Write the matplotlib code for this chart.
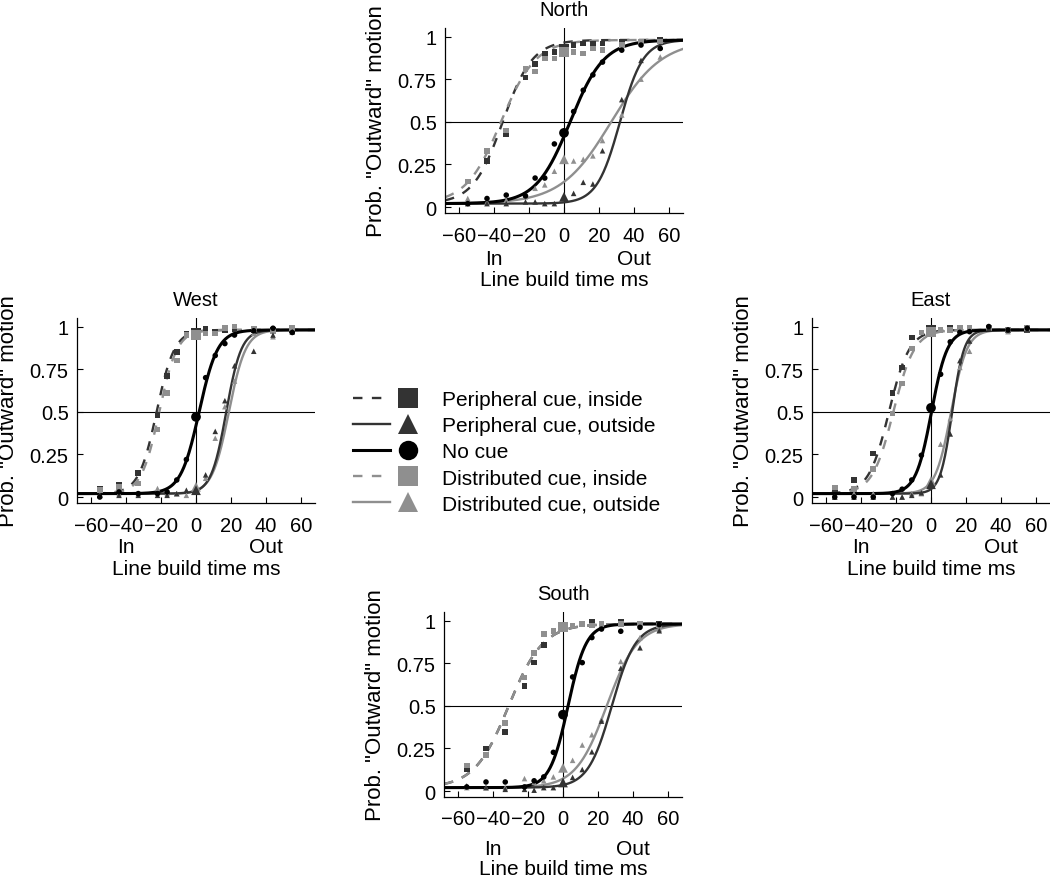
import numpy as np
import matplotlib
matplotlib.use("Agg")
import matplotlib.pyplot as plt
from matplotlib.lines import Line2D
from matplotlib.legend_handler import HandlerTuple

plt.rcParams['font.family'] = ['Liberation Sans', 'DejaVu Sans']
plt.rcParams['font.size'] = 15

# ---- data -------------------------------------------------------------
build_times = [-55, -44, -33, -22, -16.5, -11, -5.5, 0, 5.5, 11, 16.5, 22, 33, 44, 55]
conditions = ["Peripheral cue, inside", "Peripheral cue, outside", "No cue",
              "Distributed cue, inside", "Distributed cue, outside"]

# order of rows: per_in, per_out, no cue, dist_in, dist_out
north_prob = [
    [0.15, 0.27, 0.425, 0.76, 0.84, 0.90, 0.91, 0.93, 0.95, 0.96, 0.96, 0.96, 0.97, 0.97, 0.98],
    [0.02, 0.02, 0.02, 0.03, 0.03, 0.02, 0.02, 0.06, 0.08, 0.145, 0.135, 0.33, 0.63, 0.86, 0.94],
    [0.02, 0.05, 0.07, 0.065, 0.17, 0.17, 0.37, 0.435, 0.56, 0.685, 0.775, 0.85, 0.92, 0.95, 0.93],
    [0.15, 0.33, 0.45, 0.81, 0.795, 0.87, 0.87, 0.91, 0.91, 0.90, 0.93, 0.92, 0.95, 0.97, 0.97],
    [0.05, 0.03, 0.04, 0.06, 0.11, 0.13, 0.21, 0.28, 0.27, 0.28, 0.30, 0.39, 0.54, 0.75, 0.88],
]
west_prob = [
    [0.05, 0.07, 0.14, 0.48, 0.71, 0.85, 0.955, 0.96, 0.985, 0.97, 0.98, 0.985, 0.98, 0.98, 0.98],
    [0.01, 0.01, 0.01, 0.01, 0.01, 0.02, 0.04, 0.04, 0.13, 0.385, 0.565, 0.77, 0.855, 0.95, 0.97],
    [0.00, 0.03, 0.02, 0.02, 0.03, 0.10, 0.22, 0.47, 0.70, 0.83, 0.90, 0.95, 0.975, 0.99, 0.965],
    [0.04, 0.06, 0.08, 0.395, 0.61, 0.80, 0.95, 0.95, 0.96, 0.96, 0.99, 1.00, 0.985, 0.97, 0.99],
    [0.01, 0.02, 0.02, 0.05, 0.02, 0.02, 0.01, 0.06, 0.11, 0.345, 0.53, 0.68, 0.96, 0.94, 0.97],
]
east_prob = [
    [0.046, 0.10, 0.255, 0.61, 0.76, 0.935, 0.966, 0.98, 0.98, 0.99, 0.99, 0.99, 0.99, 0.98, 0.98],
    [0.00, 0.00, 0.00, 0.00, 0.00, 0.01, 0.025, 0.075, 0.13, 0.37, 0.80, 0.915, 0.99, 0.98, 0.98],
    [0.00, 0.00, 0.00, 0.02, 0.046, 0.10, 0.245, 0.523, 0.72, 0.91, 0.966, 0.97, 1.00, 0.98, 0.99],
    [0.055, 0.046, 0.165, 0.49, 0.665, 0.87, 0.966, 0.97, 0.98, 0.98, 0.99, 0.99, 0.99, 0.98, 0.99],
    [0.00, 0.02, 0.02, 0.00, 0.00, 0.02, 0.02, 0.095, 0.31, 0.46, 0.76, 0.855, 0.99, 0.97, 0.98],
]
south_prob = [
    [0.13, 0.25, 0.345, 0.615, 0.753, 0.858, 0.94, 0.96, 0.97, 0.98, 0.99, 0.98, 0.99, 0.98, 0.98],
    [0.03, 0.02, 0.01, 0.01, 0.005, 0.02, 0.02, 0.05, 0.08, 0.126, 0.23, 0.41, 0.72, 0.84, 0.94],
    [0.024, 0.053, 0.053, 0.024, 0.06, 0.083, 0.227, 0.448, 0.669, 0.753, 0.90, 0.95, 0.937, 0.96, 0.976],
    [0.15, 0.21, 0.40, 0.665, 0.81, 0.92, 0.94, 0.96, 0.97, 0.98, 0.97, 0.98, 0.98, 0.98, 0.97],
    [0.02, 0.02, 0.02, 0.073, 0.05, 0.06, 0.083, 0.136, 0.18, 0.27, 0.33, 0.42, 0.76, 0.90, 0.95],
]

# logistic fits (midpoint, slope) per condition
north_mu = [-35, 32, 3.5, -36, 27]
north_sd = [8.5, 6.6, 9.7, 10, 14.4]
west_mu = [-22.5, 17.3, 1.8, -21, 18.8]
west_sd = [5.1, 4.3, 5.3, 5.1, 4.8]
east_mu = [-24, 12.1, 0.3, -21.5, 11.5]
east_sd = [5.8, 3.4, 4.5, 6.0, 4.5]
south_mu = [-31, 27.9, 2.9, -31, 25]
south_sd = [9.8, 6.8, 5.2, 9.8, 8.8]
guess_rate, top_rate = 0.02, 0.98

# ---- style ------------------------------------------------------------
dark, grey = '0.2', '0.56'
colors = [dark, dark, 'black', grey, grey]
dash = (0, (4.0, 4.0))
styles = [dash, '-', '-', dash, '-']
markers = ['s', '^', 'o', 's', '^']
widths = [1.7, 1.7, 2.2, 1.7, 1.7]

W, H = 1050, 879
AW, AH = 238, 185


def axes_at(left, top):
    return fig.add_axes([left / W, 1 - (top + AH) / H, AW / W, AH / H])


fig = plt.figure(figsize=(W / 100, H / 100), dpi=100)

# name, left px, top px, data, fits, In/Out offset (pt), xlabel y (axes frac)
panels = [
    ("North", 445, 29, north_prob, north_mu, north_sd, -33, -0.31),
    ("West", 77, 319, west_prob, west_mu, west_sd, -31, -0.305),
    ("East", 812, 319, east_prob, east_mu, east_sd, -31, -0.305),
    ("South", 444, 613, south_prob, south_mu, south_sd, -37, -0.337),
]

xs = np.array(build_times)
xfit = np.linspace(-68, 68, 400)
sizes = np.where(xs == 0, 7.0, 4.0) ** 2

for name, left, top, probs, mus, sds, io_off, xl_y in panels:
    ax = axes_at(left, top)
    ax.axhline(0.5, color='black', lw=0.8, zorder=1)
    ax.axvline(0, color='black', lw=0.8, zorder=1)
    for i in [0, 3, 4, 1, 2]:
        pfit = guess_rate + (top_rate - guess_rate) / (1 + np.exp(-(xfit - mus[i]) / sds[i]))
        ax.plot(xfit, pfit, color=colors[i], ls=styles[i], lw=widths[i], zorder=2)
        ax.scatter(xs, probs[i], s=sizes, marker=markers[i], color=colors[i],
                   linewidths=0, zorder=3)
    ax.set_xlim(-68, 68)
    ax.set_ylim(-0.035, 1.05)
    ax.set_xticks([-60, -40, -20, 0, 20, 40, 60])
    ax.set_yticks([0, 0.25, 0.5, 0.75, 1])
    ax.set_yticklabels(['0', '0.25', '0.5', '0.75', '1'])
    ax.tick_params(direction='in', length=4, width=0.8, labelsize=14.5)
    ax.tick_params(axis='x', pad=9)
    ax.tick_params(axis='y', pad=6)
    for s in ['top', 'right']:
        ax.spines[s].set_visible(False)
    for s in ['left', 'bottom']:
        ax.spines[s].set_linewidth(0.9)
    ax.set_title(name, fontsize=14.5, pad=9)
    ax.set_ylabel('Prob. "Outward" motion', fontsize=16)
    ax.yaxis.set_label_coords(-0.242, 0.5)
    ax.set_xlabel('Line build time ms', fontsize=15)
    ax.xaxis.set_label_coords(0.5, xl_y)
    for txt, xv in [("In", -40), ("Out", 40)]:
        ax.annotate(txt, xy=(xv, 0), xycoords=('data', 'axes fraction'),
                    xytext=(0, io_off), textcoords='offset points',
                    ha='center', va='center', fontsize=15)

handles = []
for i in range(5):
    ln = Line2D([], [], color=colors[i], ls=styles[i], lw=widths[i])
    mk = Line2D([], [], color=colors[i], marker=markers[i], ls='none', ms=14, mew=0)
    handles.append((ln, mk))

fig.legend(handles, conditions, handler_map={tuple: HandlerTuple(ndivide=None, pad=0)},
           loc='upper left', bbox_to_anchor=(353 / W, 1 - 391 / H), frameon=False,
           handlelength=3.55, handletextpad=0.7, labelspacing=0.34, fontsize=15,
           borderpad=0, borderaxespad=0)

fig.savefig('out.png', dpi=100)
